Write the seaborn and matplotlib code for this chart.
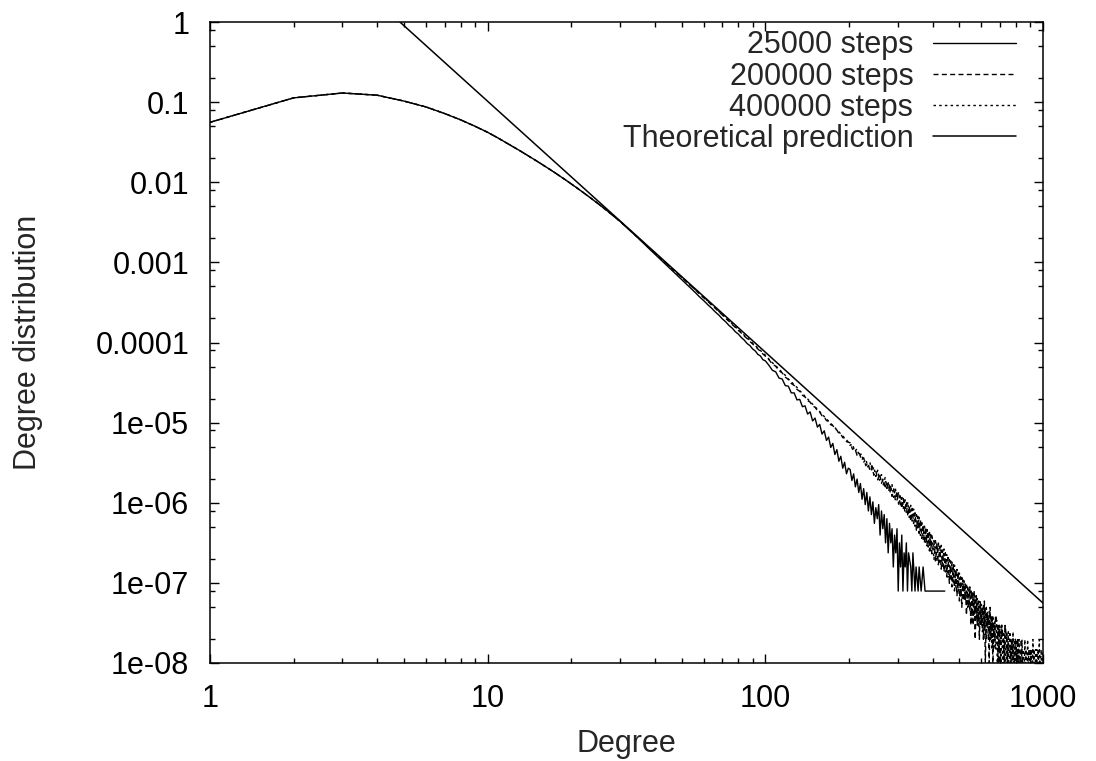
import numpy as np
import pandas as pd
import matplotlib
matplotlib.use("Agg")
import matplotlib.pyplot as plt
import seaborn as sns
from matplotlib.ticker import NullFormatter

# ---------------- data ----------------
series_labels = ["25000 steps", "200000 steps", "400000 steps"]
theory_label = "Theoretical prediction"

x_tick_vals = [1, 10, 100, 1000]
x_tick_labels = ["1", "10", "100", "1000"]
y_tick_vals = [1, 1e-1, 1e-2, 1e-3, 1e-4, 1e-5, 1e-6, 1e-7, 1e-8]
y_tick_labels = ["1", "0.1", "0.01", "0.001", "0.0001", "1e-05", "1e-06", "1e-07", "1e-08"]

# degrees 1..30 : the three runs coincide here
deg_head = np.arange(1, 31)
p_head = [0.056, 0.113, 0.130, 0.122, 0.103, 0.087, 0.072, 0.060, 0.050, 0.042,
          0.035, 0.0294, 0.0250, 0.0214, 0.01845, 0.0160, 0.0140, 0.01225, 0.0108, 0.00954,
          0.00846, 0.00753, 0.00672, 0.00602, 0.00540, 0.00486, 0.00438, 0.00395, 0.00358, 0.00324]

# degrees 32..100 (step 2)
deg_mid = np.arange(32, 101, 2)
p_mid_25k = [2.645e-3, 2.17e-3, 1.80e-3, 1.50e-3, 1.27e-3, 1.08e-3, 9.28e-4, 8.0e-4, 6.96e-4, 6.08e-4,
             5.34e-4, 4.70e-4, 4.19e-4, 3.70e-4, 3.33e-4, 2.97e-4, 2.69e-4, 2.41e-4, 2.20e-4, 1.97e-4,
             1.81e-4, 1.63e-4, 1.51e-4, 1.36e-4, 1.27e-4, 1.15e-4, 1.07e-4, 9.7e-5, 9.15e-5, 8.3e-5,
             7.85e-5, 7.1e-5, 6.8e-5, 6.1e-5, 5.9e-5]
p_mid_200k = [2.64e-3, 2.19e-3, 1.82e-3, 1.535e-3, 1.305e-3, 1.12e-3, 9.68e-4, 8.43e-4, 7.35e-4, 6.49e-4,
              5.70e-4, 5.08e-4, 4.51e-4, 4.05e-4, 3.61e-4, 3.27e-4, 2.94e-4, 2.68e-4, 2.41e-4, 2.21e-4,
              2.00e-4, 1.84e-4, 1.67e-4, 1.545e-4, 1.41e-4, 1.31e-4, 1.20e-4, 1.12e-4, 1.03e-4, 9.6e-5,
              8.9e-5, 8.3e-5, 7.75e-5, 7.2e-5, 6.75e-5]
p_mid_400k = [2.65e-3, 2.19e-3, 1.825e-3, 1.54e-3, 1.31e-3, 1.125e-3, 9.72e-4, 8.47e-4, 7.4e-4, 6.52e-4,
              5.74e-4, 5.11e-4, 4.55e-4, 4.08e-4, 3.65e-4, 3.3e-4, 2.98e-4, 2.71e-4, 2.45e-4, 2.24e-4,
              2.04e-4, 1.87e-4, 1.71e-4, 1.57e-4, 1.44e-4, 1.34e-4, 1.23e-4, 1.145e-4, 1.06e-4, 9.85e-5,
              9.15e-5, 8.55e-5, 7.95e-5, 7.45e-5, 6.95e-5]

# degrees 103..199 (step 3)
deg_upper = np.arange(103, 200, 3)
p_upper_25k = [5.2e-5, 4.5e-5, 4.3e-5, 3.6e-5, 3.5e-5, 2.9e-5, 2.85e-5, 2.35e-5, 2.35e-5, 1.92e-5,
               1.95e-5, 1.58e-5, 1.62e-5, 1.28e-5, 1.36e-5, 1.05e-5, 1.14e-5, 8.8e-6, 9.5e-6, 7.2e-6,
               7.9e-6, 6.0e-6, 6.6e-6, 4.9e-6, 5.5e-6, 4.0e-6, 4.6e-6, 3.3e-6, 3.8e-6, 2.7e-6,
               3.2e-6, 2.3e-6, 2.7e-6]
p_upper_200k = [6.1e-5, 5.4e-5, 5.05e-5, 4.45e-5, 4.17e-5, 3.7e-5, 3.46e-5, 3.08e-5, 2.91e-5, 2.6e-5,
                2.46e-5, 2.2e-5, 2.09e-5, 1.88e-5, 1.8e-5, 1.61e-5, 1.56e-5, 1.41e-5, 1.35e-5, 1.22e-5,
                1.18e-5, 1.06e-5, 1.04e-5, 9.4e-6, 9.2e-6, 8.3e-6, 8.1e-6, 7.3e-6, 7.2e-6, 6.5e-6,
                6.4e-6, 5.8e-6, 5.7e-6]
p_upper_400k = [6.2e-5, 5.6e-5, 5.1e-5, 4.7e-5, 4.2e-5, 3.9e-5, 3.5e-5, 3.25e-5, 2.95e-5, 2.75e-5,
                2.5e-5, 2.33e-5, 2.12e-5, 1.98e-5, 1.82e-5, 1.7e-5, 1.57e-5, 1.48e-5, 1.37e-5, 1.28e-5,
                1.19e-5, 1.12e-5, 1.04e-5, 9.8e-6, 9.2e-6, 8.7e-6, 8.1e-6, 7.7e-6, 7.2e-6, 6.8e-6,
                6.4e-6, 6.1e-6, 5.7e-6]

# degrees 202..398 (step 4), longer runs
deg_d = np.arange(202, 399, 4)
p_d_200k = [5.6e-6, 4.65e-6, 4.8e-6, 3.9e-6, 4.2e-6, 3.4e-6, 3.65e-6, 2.9e-6, 3.15e-6, 2.55e-6,
            2.9e-6, 2.2e-6, 2.5e-6, 1.93e-6, 2.3e-6, 1.75e-6, 2.0e-6, 1.5e-6, 1.85e-6, 1.39e-6,
            1.7e-6, 1.2e-6, 1.49e-6, 1.07e-6, 1.39e-6, 9.6e-7, 1.22e-6, 8.5e-7, 1.13e-6, 7.7e-7,
            1.04e-6, 6.8e-7, 9.1e-7, 5.85e-7, 8.5e-7, 5.5e-7, 7.5e-7, 4.55e-7, 6.8e-7, 4.15e-7,
            6.1e-7, 3.6e-7, 5.3e-7, 3.15e-7, 4.95e-7, 2.9e-7, 4.4e-7, 2.5e-7, 4.0e-7, 2.3e-7]
p_d_400k = [5.2e-6, 5.4e-6, 4.4e-6, 4.7e-6, 3.8e-6, 4.1e-6, 3.2e-6, 3.5e-6, 2.8e-6, 3.2e-6,
            2.45e-6, 2.8e-6, 2.13e-6, 2.55e-6, 1.91e-6, 2.25e-6, 1.67e-6, 2.06e-6, 1.51e-6, 1.83e-6,
            1.32e-6, 1.68e-6, 1.17e-6, 1.52e-6, 1.08e-6, 1.37e-6, 9.2e-7, 1.23e-6, 8.5e-7, 1.14e-6,
            7.4e-7, 1.02e-6, 6.55e-7, 9.3e-7, 5.9e-7, 8.35e-7, 5.1e-7, 7.5e-7, 4.6e-7, 6.7e-7,
            3.9e-7, 5.9e-7, 3.5e-7, 5.4e-7, 3.15e-7, 4.9e-7, 2.8e-7, 4.4e-7, 2.45e-7, 4.05e-7]

# sparse tails: counts of the lowest level of each run (zeros are not drawn)
deg_tail_25k = list(range(202, 380, 3)) + [443]
counts_tail_25k = [33, 24, 29, 20, 25, 17, 22, 14, 19, 12, 17, 10, 15, 9, 13, 7, 11, 8, 12, 5,
                   10, 6, 9, 4, 8, 3, 7, 4, 6, 2, 5, 3, 6, 1, 4, 2, 5, 1, 3, 2,
                   4, 1, 3, 0, 2, 1, 3, 0, 1, 2, 0, 1, 2, 0, 1, 0, 2, 0, 1, 1,
                   1]
level_25k = 7.9e-8

deg_tail_200k = np.arange(405, 851, 5)
counts_tail_200k = [34, 19, 31, 17, 29, 15, 26, 14, 24, 12,
                    21, 10, 19, 9, 17, 8, 15, 7, 14, 6,
                    12, 5, 11, 6, 10, 4, 9, 5, 9, 3,
                    8, 3, 8, 2, 7, 3, 6, 2, 6, 3,
                    5, 2, 6, 1, 5, 3, 4, 1, 5, 2,
                    4, 1, 3, 2, 4, 0, 3, 1, 3, 1,
                    2, 3, 0, 2, 1, 3, 0, 2, 1, 2,
                    0, 2, 1, 0, 2, 1, 0, 1, 2, 0,
                    1, 2, 0, 1, 0, 1, 2, 0, 1, 1]
level_200k = 9.9e-9

deg_tail_400k = np.arange(405, 1001, 5)
counts_tail_400k = [40, 72, 38, 66, 35, 60, 32, 54, 28, 46,
                    24, 42, 22, 38, 20, 34, 18, 30, 16, 27,
                    14, 25, 13, 22, 12, 20, 10, 18, 9, 17,
                    8, 16, 8, 14, 7, 13, 6, 12, 6, 11,
                    5, 11, 5, 10, 4, 9, 4, 9, 4, 8,
                    3, 8, 3, 7, 3, 7, 2, 6, 3, 6,
                    2, 6, 2, 5, 2, 6, 1, 5, 2, 5,
                    1, 5, 2, 4, 1, 5, 2, 4, 1, 4,
                    2, 4, 1, 4, 2, 3, 1, 4, 2, 3,
                    1, 4, 2, 3, 1, 4, 2, 3, 1, 3,
                    2, 3, 1, 4, 2, 3, 1, 3, 2, 3,
                    1, 3, 2, 4, 1, 2, 3, 1, 2, 3]
level_400k = 4.9e-9

# theoretical power law (straight line on log-log axes)
theory_k = [4.83, 1000]
theory_p = [1.0, 5.6e-8]


def assemble(parts):
    ks = np.concatenate([np.asarray(k, float) for k, _ in parts])
    ps = np.concatenate([np.asarray(p, float) for _, p in parts])
    df = pd.DataFrame({"k": ks, "p": ps})
    return df[df["p"] > 0].reset_index(drop=True)


df_25k = assemble([(deg_head, p_head), (deg_mid, p_mid_25k), (deg_upper, p_upper_25k),
                   (deg_tail_25k, np.asarray(counts_tail_25k) * level_25k)])
df_200k = assemble([(deg_head, p_head), (deg_mid, p_mid_200k), (deg_upper, p_upper_200k),
                    (deg_d, p_d_200k), (deg_tail_200k, np.asarray(counts_tail_200k) * level_200k)])
df_400k = assemble([(deg_head, p_head), (deg_mid, p_mid_400k), (deg_upper, p_upper_400k),
                    (deg_d, p_d_400k), (deg_tail_400k, np.asarray(counts_tail_400k) * level_400k)])
df_theory = pd.DataFrame({"k": theory_k, "p": theory_p})

# ---------------- style ----------------
sns.set_theme(style="ticks")
plt.rcParams["font.family"] = ["Liberation Sans", "DejaVu Sans"]
plt.rcParams["axes.linewidth"] = 1.1
FS = 22

W, H = 1096, 761
fig = plt.figure(figsize=(W / 100, H / 100), dpi=100)
L, R, T, B = 210, 1043, 22, 663
ax = fig.add_axes([L / W, 1 - B / H, (R - L) / W, (B - T) / H])
ax.set_xscale("log")
ax.set_yscale("log")

line_styles = ["-", (0, (3.6, 2.4)), (0, (1.8, 2.3))]
for df, lab, ls in zip([df_25k, df_200k, df_400k], series_labels, line_styles):
    sns.lineplot(data=df, x="k", y="p", ax=ax, color="black", linewidth=1.0,
                 linestyle=ls, estimator=None, sort=False, label=lab)
sns.lineplot(data=df_theory, x="k", y="p", ax=ax, color="black", linewidth=1.1,
             estimator=None, sort=False, label=theory_label)

ax.set_xticks(x_tick_vals, labels=x_tick_labels)
ax.set_yticks(y_tick_vals, labels=y_tick_labels)
ax.set_xticks([m * 10 ** e for e in range(3) for m in range(2, 10)], minor=True)
ax.set_yticks([m * 10.0 ** e for e in range(-8, 0) for m in (2, 5, 8)], minor=True)
ax.xaxis.set_minor_formatter(NullFormatter())
ax.yaxis.set_minor_formatter(NullFormatter())
ax.set_xlim(1, 1000)
ax.set_ylim(1e-8, 1)

ax.tick_params(which="both", direction="in", top=True, right=True, colors="black",
               labelsize=FS, width=1.0)
ax.tick_params(which="major", length=6.5, pad=15)
ax.tick_params(which="minor", length=3.3)
for s in ax.spines.values():
    s.set_visible(True)
    s.set_color("black")

ax.set_xlabel("Degree", fontsize=FS)
ax.set_ylabel("Degree distribution", fontsize=FS)
ax.xaxis.set_label_coords(0.5, (B - 729) / (B - T))
ax.yaxis.set_label_coords((43 - L) / (R - L), 0.5)

ax.legend(loc="upper right", bbox_to_anchor=((1016 - L) / (R - L), (B - 30.5) / (B - T)),
          frameon=False, markerfirst=False, fontsize=FS, handlelength=2.71,
          handletextpad=0.65, labelspacing=0.033, borderpad=0, borderaxespad=0)

fig.savefig("out.png", dpi=100)
